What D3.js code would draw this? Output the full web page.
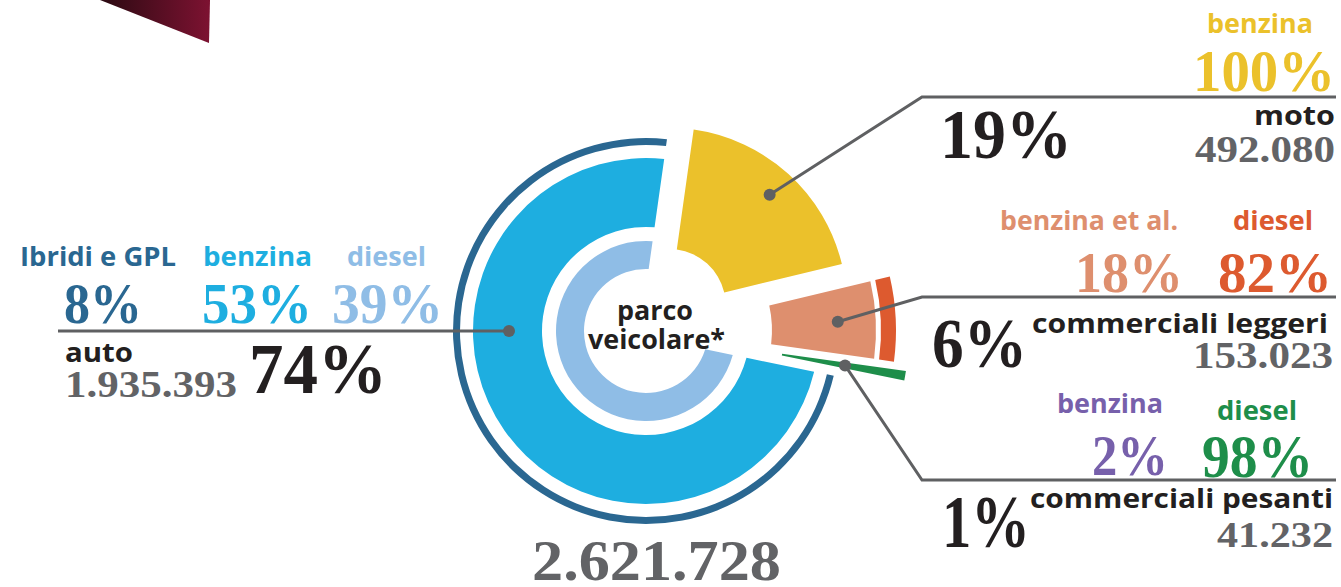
<!DOCTYPE html>
<html>
<head>
<meta charset="utf-8">
<script src="https://cdn.jsdelivr.net/npm/d3@7"></script>
<style>
  html, body { margin: 0; padding: 0; background: #fff; overflow: hidden; }
  svg { display: block; }
</style>
</head>
<body>
<svg id="chart" width="1341" height="587"></svg>
<script>
// Parco veicolare: categories, vehicle counts and share of the total (%)
const categories = ["moto", "commerciali leggeri", "commerciali pesanti", "auto"];
const vehicleCounts = [492080, 153023, 41232, 1935393];
const categoryShares = [19, 6, 1, 74];
const totalFleet = 2621728;

// Fuel split inside each category (%)
const autoFuels = ["Ibridi e GPL", "benzina", "diesel"];
const autoFuelShares = [8, 53, 39];
const motoFuels = ["benzina"];
const motoFuelShares = [100];
const lightFuels = ["benzina et al.", "diesel"];
const lightFuelShares = [18, 82];
const heavyFuels = ["benzina", "diesel"];
const heavyFuelShares = [2, 98];

// ---------------------------------------------------------------------------
const W = 1341, H = 587;
const cx = 646, cy = 331;
const START = 0.14; // rotation of the first slice (radians, clockwise from 12 o'clock)

const C = {
  ibridi: "#2a6791", benzinaAuto: "#1eaee0", dieselAuto: "#8fbde6",
  moto: "#ebc12b", lightBenz: "#de8f6e", lightDiesel: "#dd5a2f",
  heavyBenz: "#7760ab", heavyDiesel: "#1e8e4a",
  ink: "#231f20", grey: "#626366", rule: "#5f6062"
};

const SANS = "'Open Sans', 'Noto Sans', sans-serif";
const SERIF = "'Liberation Serif', 'DejaVu Serif', serif";

const itFormat = d3.formatLocale({ decimal: ",", thousands: ".", grouping: [3], currency: ["€", ""] }).format(",d");

// Radial bands of each slice, explode distance and padding (px)
const sliceStyle = {
  "moto": { explode: 34, pad: 0, dotR: 150,
    bands: [{ fuel: "benzina", r0: 57, r1: 178, color: C.moto }] },
  "commerciali leggeri": { explode: 12, pad: 4, dotR: 180,
    bands: [{ fuel: "benzina et al.", r0: 114, r1: 218, color: C.lightBenz },
            { fuel: "diesel", r0: 223, r1: 238, color: C.lightDiesel }] },
  "commerciali pesanti": { explode: 30, pad: 5, dotR: 172,
    bands: [{ fuel: "diesel", r0: 108, r1: 233, color: C.heavyDiesel }] },
  "auto": { explode: 0, pad: 12, dotR: 137, dotAngle: Math.PI * 1.5,
    bands: [{ fuel: "diesel", r0: 62, r1: 90, color: C.dieselAuto },
            { fuel: "benzina", r0: 104, r1: 173, color: C.benzinaAuto },
            { fuel: "Ibridi e GPL", r0: 186, r1: 193, color: C.ibridi }] }
};

const svg = d3.select("#chart");

// corner ribbon
const defs = svg.append("defs");
const grad = defs.append("linearGradient").attr("id", "ribbon")
  .attr("x1", "0%").attr("x2", "100%").attr("y1", "0%").attr("y2", "0%");
grad.append("stop").attr("offset", "0%").attr("stop-color", "#2a0a12");
grad.append("stop").attr("offset", "100%").attr("stop-color", "#7d1231");
svg.append("path").attr("d", "M100,0 L210,0 L209,43 Z").attr("fill", "url(#ribbon)");

// ---------------------------------------------------------------------------
// Donut
const slices = categories.map((c, i) => ({ category: c, share: categoryShares[i], count: vehicleCounts[i] }));
const pie = d3.pie().sort(null).value(d => d.share)
  .startAngle(START).endAngle(START + 2 * Math.PI);
const arcs = pie(slices);

const PAD_R = 100;
const polar = (r, a) => [r * Math.sin(a), -r * Math.cos(a)];

const donut = svg.append("g").attr("transform", `translate(${cx},${cy})`);
const dots = {};

arcs.forEach(a => {
  const st = sliceStyle[a.data.category];
  const mid = (a.startAngle + a.endAngle) / 2;
  const [ox, oy] = polar(st.explode, mid);
  const g = donut.append("g").attr("transform", `translate(${ox},${oy})`);
  st.bands.forEach(b => {
    const gen = d3.arc()
      .innerRadius(b.r0).outerRadius(b.r1)
      .padAngle(st.pad / PAD_R).padRadius(PAD_R);
    g.append("path").attr("d", gen(a)).attr("fill", b.color);
  });
  const ang = st.dotAngle !== undefined ? st.dotAngle : mid;
  const [dx, dy] = polar(st.dotR, ang);
  dots[a.data.category] = [cx + ox + dx, cy + oy + dy];
});

// centre caption
const caption = svg.append("g").attr("font-family", SANS).attr("font-weight", 700)
  .attr("fill", C.ink).attr("font-size", 26).attr("text-anchor", "middle");
caption.append("text").attr("x", 655).attr("y", 320).attr("textLength", 76)
  .attr("lengthAdjust", "spacingAndGlyphs").text("parco");
caption.append("text").attr("x", 656.5).attr("y", 349).attr("textLength", 137)
  .attr("lengthAdjust", "spacingAndGlyphs").text("veicolare*");

// ---------------------------------------------------------------------------
// Labels
function label(str, x, y, o) {
  return svg.append("text")
    .attr("x", x).attr("y", y)
    .attr("font-family", o.serif ? SERIF : SANS)
    .attr("font-weight", 700)
    .attr("font-size", o.size)
    .attr("fill", o.fill)
    .attr("text-anchor", o.anchor || "start")
    .attr("textLength", o.len)
    .attr("lengthAdjust", "spacingAndGlyphs")
    .text(str);
}
const pct = v => `${v}%`;
const iAuto = categories.indexOf("auto");
const iMoto = categories.indexOf("moto");
const iLight = categories.indexOf("commerciali leggeri");
const iHeavy = categories.indexOf("commerciali pesanti");

// leader lines
function leader(points) {
  svg.append("path").attr("d", d3.line()(points))
    .attr("fill", "none").attr("stroke", C.rule).attr("stroke-width", 3);
}
const dA = dots["auto"], dM = dots["moto"], dL = dots["commerciali leggeri"], dH = dots["commerciali pesanti"];
leader([[58, dA[1]], dA]);
leader([[1336, 97], [922, 97], dM]);
leader([[1336, 297], [922, 297], dL]);
leader([[1336, 480], [922, 480], dH]);
[dA, dM, dL, dH].forEach(p => svg.append("circle").attr("cx", p[0]).attr("cy", p[1]).attr("r", 6).attr("fill", C.rule));

// auto
label(autoFuels[0], 20, 266, { size: 27, fill: C.ibridi, len: 156 });
label(autoFuels[1], 203, 266, { size: 27, fill: C.benzinaAuto, len: 109 });
label(autoFuels[2], 347, 266, { size: 27, fill: C.dieselAuto, len: 79 });
label(pct(autoFuelShares[0]), 64, 323, { serif: true, size: 56, fill: C.ibridi, len: 78 });
label(pct(autoFuelShares[1]), 202, 323, { serif: true, size: 56, fill: C.benzinaAuto, len: 110 });
label(pct(autoFuelShares[2]), 332, 323, { serif: true, size: 56, fill: C.dieselAuto, len: 111 });
label(categories[iAuto], 65, 362, { size: 27, fill: C.ink, len: 68 });
label(itFormat(vehicleCounts[iAuto]), 65, 397, { serif: true, size: 37, fill: C.grey, len: 172 });
label(pct(categoryShares[iAuto]), 249, 393, { serif: true, size: 71, fill: C.ink, len: 138 });

// moto
label(motoFuels[0], 1313, 33, { size: 27, fill: C.moto, anchor: "end", len: 106 });
label(pct(motoFuelShares[0]), 1335, 91, { serif: true, size: 59, fill: C.moto, anchor: "end", len: 142 });
label(pct(categoryShares[iMoto]), 940, 158, { serif: true, size: 69, fill: C.ink, len: 132 });
label(categories[iMoto], 1335, 125, { size: 27, fill: C.ink, anchor: "end", len: 81 });
label(itFormat(vehicleCounts[iMoto]), 1335, 162, { serif: true, size: 37, fill: C.grey, anchor: "end", len: 140 });

// commerciali leggeri
label(lightFuels[0], 1000, 230, { size: 27, fill: C.lightBenz, len: 178 });
label(lightFuels[1], 1313, 230, { size: 27, fill: C.lightDiesel, anchor: "end", len: 80 });
label(pct(lightFuelShares[0]), 1183, 292, { serif: true, size: 57, fill: C.lightBenz, anchor: "end", len: 108 });
label(pct(lightFuelShares[1]), 1332, 292, { serif: true, size: 57, fill: C.lightDiesel, anchor: "end", len: 114 });
label(pct(categoryShares[iLight]), 932, 367, { serif: true, size: 69, fill: C.ink, len: 95 });
label(categories[iLight], 1328, 333, { size: 27, fill: C.ink, anchor: "end", len: 296 });
label(itFormat(vehicleCounts[iLight]), 1333, 368, { serif: true, size: 37, fill: C.grey, anchor: "end", len: 140 });

// commerciali pesanti
label(heavyFuels[0], 1163, 413, { size: 27, fill: C.heavyBenz, anchor: "end", len: 106 });
label(heavyFuels[1], 1297, 420, { size: 27, fill: C.heavyDiesel, anchor: "end", len: 80 });
label(pct(heavyFuelShares[0]), 1168, 475, { serif: true, size: 57, fill: C.heavyBenz, anchor: "end", len: 76 });
label(pct(heavyFuelShares[1]), 1313, 477, { serif: true, size: 62, fill: C.heavyDiesel, anchor: "end", len: 111 });
label(pct(categoryShares[iHeavy]), 942, 547, { serif: true, size: 74, fill: C.ink, len: 88 });
label(categories[iHeavy], 1333, 508, { size: 27, fill: C.ink, anchor: "end", len: 303 });
label(itFormat(vehicleCounts[iHeavy]), 1333, 547, { serif: true, size: 35, fill: C.grey, anchor: "end", len: 116 });

// total
label(itFormat(totalFleet), 532, 580, { serif: true, size: 58, fill: C.grey, len: 249 });
</script>
</body>
</html>
